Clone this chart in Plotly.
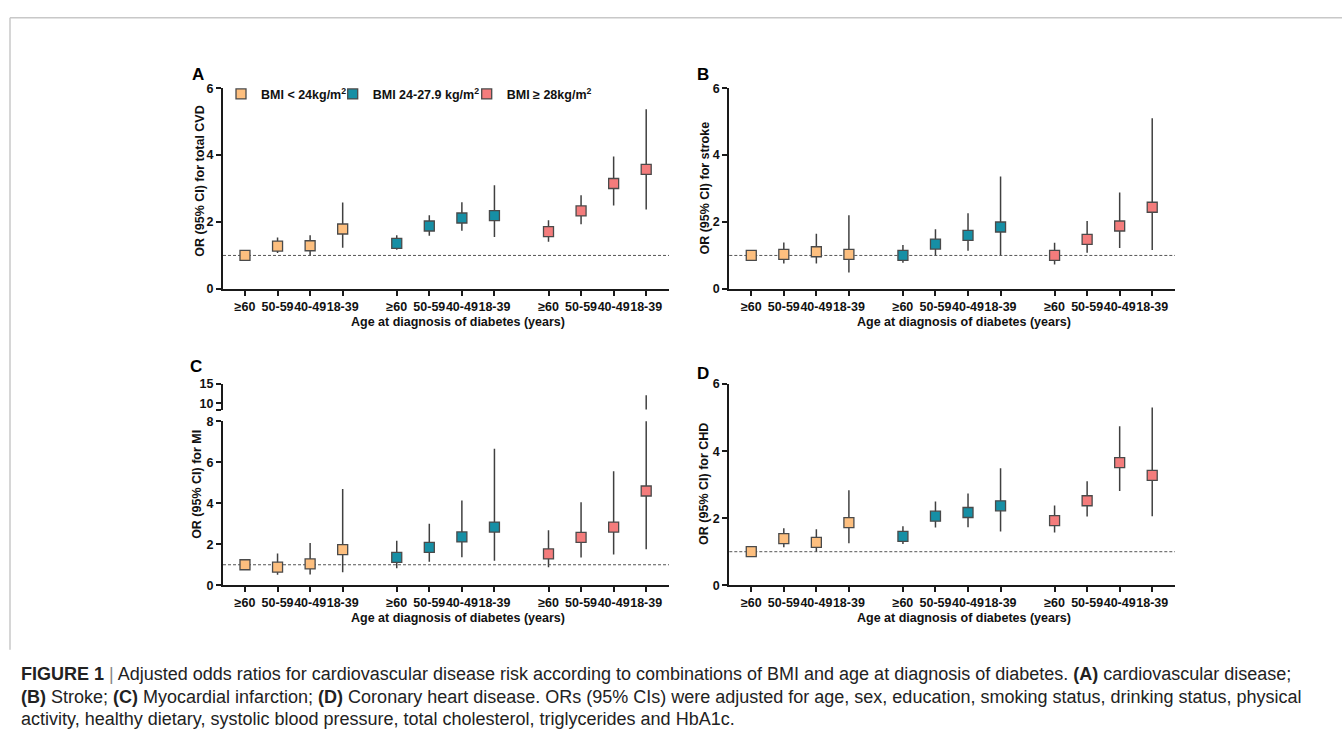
import plotly.graph_objects as go

# ---------------- data ----------------
ages = ["≥60", "50-59", "40-49", "18-39"]
bmi_groups = ["BMI < 24kg/m<sup>2</sup>", "BMI 24-27.9 kg/m<sup>2</sup>", "BMI ≥ 28kg/m<sup>2</sup>"]
colors = ["#FDBF7F", "#168FA5", "#F47C7C"]

# total CVD (panel A)
cvd_or = [[1.00, 1.28, 1.29, 1.79], [1.36, 1.88, 2.12, 2.19], [1.71, 2.33, 3.15, 3.57]]
cvd_lo = [[1.00, 1.07, 1.00, 1.23], [1.17, 1.59, 1.74, 1.55], [1.41, 1.93, 2.49, 2.37]]
cvd_hi = [[1.00, 1.54, 1.60, 2.58], [1.60, 2.20, 2.59, 3.10], [2.05, 2.80, 3.96, 5.37]]

# stroke (panel B)
str_or = [[1.00, 1.03, 1.11, 1.03], [1.00, 1.34, 1.60, 1.85], [1.00, 1.48, 1.88, 2.44]]
str_lo = [[1.00, 0.76, 0.76, 0.49], [0.78, 1.00, 1.14, 1.00], [0.73, 1.08, 1.22, 1.16]]
str_hi = [[1.00, 1.39, 1.65, 2.20], [1.31, 1.78, 2.26, 3.36], [1.38, 2.03, 2.88, 5.10]]

# MI (panel C)
mi_or = [[1.00, 0.88, 1.04, 1.74], [1.36, 1.85, 2.36, 2.84], [1.53, 2.34, 2.84, 4.60]]
mi_lo = [[1.00, 0.51, 0.53, 0.64], [0.83, 1.15, 1.37, 1.20], [0.88, 1.35, 1.50, 1.76]]
mi_hi = [[1.00, 1.55, 2.06, 4.70], [2.17, 3.00, 4.14, 6.66], [2.68, 4.05, 5.57, 12.1]]

# CHD (panel D)
chd_or = [[1.00, 1.39, 1.28, 1.87], [1.46, 2.06, 2.17, 2.37], [1.93, 2.52, 3.66, 3.28]]
chd_lo = [[1.00, 1.13, 1.00, 1.25], [1.23, 1.72, 1.73, 1.60], [1.57, 2.05, 2.81, 2.06]]
chd_hi = [[1.00, 1.70, 1.67, 2.83], [1.76, 2.50, 2.74, 3.49], [2.38, 3.10, 4.74, 5.30]]

y_ticks = [0, 2, 4, 6]
mi_lower_ticks = [0, 2, 4, 6, 8]
mi_upper_ticks = [10, 15]

panel_titles = ["OR (95% CI) for total CVD", "OR (95% CI) for stroke",
                "OR (95% CI) for MI", "OR (95% CI) for CHD"]
x_title = "Age at diagnosis of diabetes (years)"

caption_lines = [
    "<b>FIGURE 1</b> <span style='color:#888'>|</span> Adjusted odds ratios for cardiovascular disease risk according to combinations of BMI and age at diagnosis of diabetes. <b>(A)</b> cardiovascular disease;",
    "<b>(B)</b> Stroke; <b>(C)</b> Myocardial infarction; <b>(D)</b> Coronary heart disease. ORs (95% CIs) were adjusted for age, sex, education, smoking status, drinking status, physical",
    "activity, healthy dietary, systolic blood pressure, total cholesterol, triglycerides and HbA1c.",
]

# ---------------- layout helpers ----------------
W, H = 1342, 746
FONT = "Liberation Sans, Arial, Helvetica, sans-serif"
GROUP_STEP = 4.66
xpos = [[g * GROUP_STEP + i for i in range(4)] for g in range(3)]
all_x = [v for row in xpos for v in row]
all_lbl = ages * 3
XRANGE = [-0.675, 13.02]


def px(x):
    return x / W


def py(y):
    return 1 - y / H


fig = go.Figure()

panels = [
    dict(name="A", data=(cvd_or, cvd_lo, cvd_hi), xa="x", ya="y", xd=(223, 669), yd=(82.7, 287.3)),
    dict(name="B", data=(str_or, str_lo, str_hi), xa="x2", ya="y2", xd=(729.3, 1175), yd=(82.7, 287.3)),
    dict(name="C", data=(mi_or, mi_lo, mi_hi), xa="x3", ya="y3", xd=(223, 669), yd=(422.3, 589.3)),
    dict(name="D", data=(chd_or, chd_lo, chd_hi), xa="x4", ya="y4", xd=(729.3, 1175), yd=(384.3, 589.3)),
]

tickfont = dict(family=FONT, size=12.5, color="#111", weight="bold")
legend_names = ["legend", "legend2", "legend3"]


def add_series(p, xa, ya, showlegend):
    o, lo, hi = p["data"]
    for g in range(3):
        fig.add_trace(go.Scatter(
            x=xpos[g], y=o[g], mode="markers", xaxis=xa, yaxis=ya,
            name=bmi_groups[g], legendgroup=str(g), showlegend=showlegend,
            legend=legend_names[g], hoverinfo="skip",
            marker=dict(symbol="square", size=10, color=colors[g],
                        line=dict(color="#4a4a4a", width=1.3)),
            error_y=dict(type="data", symmetric=False,
                         array=[h - v for h, v in zip(hi[g], o[g])],
                         arrayminus=[v - l for v, l in zip(o[g], lo[g])],
                         width=0, thickness=1.5, color="#404040"),
        ))


for k, p in enumerate(panels):
    add_series(p, p["xa"], p["ya"], showlegend=(k == 0))

# upper segment of the broken MI axis
add_series(panels[2], "x5", "y5", showlegend=False)

axis_common = dict(showline=True, linecolor="#1a1a1a", linewidth=2, ticks="outside",
                   ticklen=5, tickwidth=1.6, tickcolor="#1a1a1a", showgrid=False,
                   zeroline=False, tickfont=tickfont)

lay = {}
for k, p in enumerate(panels):
    xi = "" if k == 0 else str(k + 1)
    lay["xaxis" + xi] = dict(domain=[px(p["xd"][0]), px(p["xd"][1])], anchor=p["ya"],
                             range=XRANGE, tickvals=all_x, ticktext=all_lbl, tickangle=0,
                             **axis_common)
    if p["name"] == "C":
        yr, yt = [0, 8], mi_lower_ticks
    else:
        yr, yt = [0, 6], y_ticks
    lay["yaxis" + xi] = dict(domain=[py(p["yd"][1]), py(p["yd"][0])], anchor=p["xa"],
                             range=yr, tickvals=yt, **axis_common)

lay["xaxis5"] = dict(domain=[px(223), px(669)], anchor="y5", range=XRANGE, visible=False)
lay["yaxis5"] = dict(domain=[py(410.3), py(384.3)], anchor="x5", range=[8.3, 15],
                     tickvals=[8.3] + mi_upper_ticks, ticktext=[""] + [str(t) for t in mi_upper_ticks],
                     **axis_common)

fig.update_layout(**lay)

# reference line at OR = 1
for k, p in enumerate(panels):
    xi = "" if k == 0 else str(k + 1)
    fig.add_shape(type="line", xref="x" + xi + " domain", yref="y" + xi,
                  x0=0, x1=1, y0=1, y1=1, layer="below",
                  line=dict(color="#555", width=1, dash="3px,2px"))

annotations = []
# panel letters
for name, (lx, ly) in zip("ABCD", [(198, 69), (703, 69), (196, 366), (703, 373)]):
    annotations.append(dict(text=name, x=px(lx), y=py(ly), xref="paper", yref="paper",
                            showarrow=False, xanchor="center", yanchor="middle",
                            font=dict(family=FONT, size=17, color="#000", weight="bold")))
# y titles
for t, (lx, ly) in zip(panel_titles, [(200, 178), (705, 184), (197, 487), (704, 486)]):
    annotations.append(dict(text=t, x=px(lx), y=py(ly), xref="paper", yref="paper",
                            showarrow=False, textangle=-90, xanchor="center", yanchor="middle",
                            font=dict(family=FONT, size=12.5, color="#111", weight="bold")))
# x titles
for (lx, ly) in [(458, 320.7), (964, 320.7), (458, 622.7), (964, 622.7)]:
    annotations.append(dict(text=x_title, x=px(lx), y=py(ly), xref="paper", yref="paper",
                            showarrow=False, xanchor="center", yanchor="middle",
                            font=dict(family=FONT, size=12.5, color="#111", weight="bold")))
# caption
for i, line in enumerate(caption_lines):
    annotations.append(dict(text=line, x=px(19), y=py(680 + 23 * i), xref="paper", yref="paper",
                            showarrow=False, xanchor="left", yanchor="middle", align="left",
                            font=dict(family=FONT, size=18, color="#222")))

fig.update_layout(annotations=annotations)

# figure frame (top and left rules)
fig.add_shape(type="line", xref="paper", yref="paper", x0=px(10), x1=1, y0=py(11), y1=py(11),
              line=dict(color="#c8c8c8", width=1.5))
fig.add_shape(type="line", xref="paper", yref="paper", x0=px(10), x1=px(10), y0=py(11), y1=py(655),
              line=dict(color="#c8c8c8", width=1.5))

legend_common = dict(orientation="h", xanchor="left", yanchor="middle", bgcolor="rgba(0,0,0,0)",
                     font=dict(family=FONT, size=12.5, color="#111", weight="bold"),
                     itemclick=False, itemdoubleclick=False, borderwidth=0)
fig.update_layout(
    width=W, height=H, margin=dict(l=0, r=0, t=0, b=0),
    paper_bgcolor="white", plot_bgcolor="white",
    legend=dict(x=px(241 - 20), y=py(89), **legend_common),
    legend2=dict(x=px(352.7 - 20), y=py(89), **legend_common),
    legend3=dict(x=px(486.7 - 20), y=py(89), **legend_common),
)

fig.write_html("out.html", config={"displayModeBar": False},
               post_script="document.body.style.margin='0px';document.body.style.overflow='hidden';document.documentElement.style.overflow='hidden';")
